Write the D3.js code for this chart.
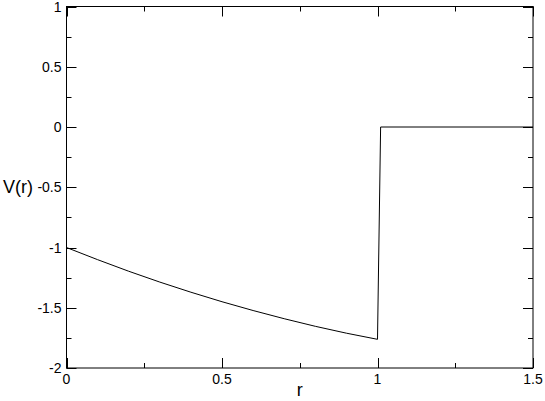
<!DOCTYPE html>
<html>
<head>
<meta charset="utf-8">
<script src="https://cdn.jsdelivr.net/npm/d3@7"></script>
<style>
  body { margin: 0; background: #fff; }
  text { font-family: "Liberation Sans", Arial, sans-serif; fill: #000; }
</style>
</head>
<body>
<svg id="chart"></svg>
<script>
// values
var rValues = [0, 0.1, 0.2, 0.3, 0.4, 0.5, 0.6, 0.7, 0.8, 0.9, 1.0, 1.01, 1.5];
var vValues = [-1.0, -1.101, -1.197, -1.287, -1.371, -1.45, -1.523, -1.591, -1.654, -1.711, -1.762, 0, 0];
var xMajor = [0, 0.5, 1, 1.5];
var xMinor = [0.25, 0.75, 1.25];
var yMajor = [-2, -1.5, -1, -0.5, 0, 0.5, 1];
var yMinor = [-1.75, -1.25, -0.75, -0.25, 0.25, 0.75];
var xLabel = "r";
var yLabel = "V(r)";

var width = 545, height = 401;
var margin = {left: 66.5, right: 12, top: 6.5, bottom: 33};

var svg = d3.select("#chart")
    .attr("width", width)
    .attr("height", height);

var x = d3.scaleLinear()
    .domain([0, 1.5])
    .range([margin.left, width - margin.right]);
var y = d3.scaleLinear()
    .domain([-2, 1])
    .range([height - margin.bottom, margin.top]);

var x0 = x.range()[0], x1 = x.range()[1];
var y0 = y.range()[0], y1 = y.range()[1];

// inward ticks on all four sides
function xticks(vals, len) {
  var g = svg.append("g").attr("stroke", "#000").attr("stroke-width", 1);
  vals.forEach(function(v) {
    var px = Math.round(x(v)) + 0.5;
    g.append("line").attr("x1", px).attr("x2", px).attr("y1", y0).attr("y2", y0 - len);
    g.append("line").attr("x1", px).attr("x2", px).attr("y1", y1).attr("y2", y1 + len);
  });
}
function yticks(vals, len) {
  var g = svg.append("g").attr("stroke", "#000").attr("stroke-width", 1);
  vals.forEach(function(v) {
    var py = Math.round(y(v)) + 0.5;
    g.append("line").attr("x1", x0).attr("x2", x0 + len).attr("y1", py).attr("y2", py);
    g.append("line").attr("x1", x1).attr("x2", x1 - len).attr("y1", py).attr("y2", py);
  });
}
xticks(xMajor, 10);
xticks(xMinor, 5);
yticks(yMajor, 10);
yticks(yMinor, 5);

// frame
svg.append("rect")
    .attr("x", x0)
    .attr("y", y1)
    .attr("width", x1 - x0)
    .attr("height", y0 - y1)
    .attr("fill", "none")
    .attr("stroke", "#000")
    .attr("stroke-width", 1);

// tick labels
svg.append("g").selectAll("text")
    .data(xMajor)
    .enter().append("text")
      .attr("x", function(d) { return x(d); })
      .attr("y", y0 + 16)
      .attr("text-anchor", "middle")
      .attr("font-size", 14)
      .text(function(d) { return d; });

svg.append("g").selectAll("text")
    .data(yMajor)
    .enter().append("text")
      .attr("x", x0 - 5)
      .attr("y", function(d) { return y(d) + 5; })
      .attr("text-anchor", "end")
      .attr("font-size", 14)
      .text(function(d) { return d; });

// axis titles
svg.append("text")
    .attr("x", (x0 + x1) / 2)
    .attr("y", 396)
    .attr("text-anchor", "middle")
    .attr("font-size", 18)
    .text(xLabel);

svg.append("text")
    .attr("x", 3)
    .attr("y", y(-0.5) + 6)
    .attr("text-anchor", "start")
    .attr("font-size", 18)
    .text(yLabel);

// curve
var pts = rValues.map(function(r, i) { return [r, vValues[i]]; });
svg.append("path")
    .datum(pts)
    .attr("fill", "none")
    .attr("stroke", "#000")
    .attr("stroke-width", 1)
    .attr("d", d3.line()
        .x(function(d) { return x(d[0]); })
        .y(function(d) { return y(d[1]); }));
</script>
</body>
</html>
